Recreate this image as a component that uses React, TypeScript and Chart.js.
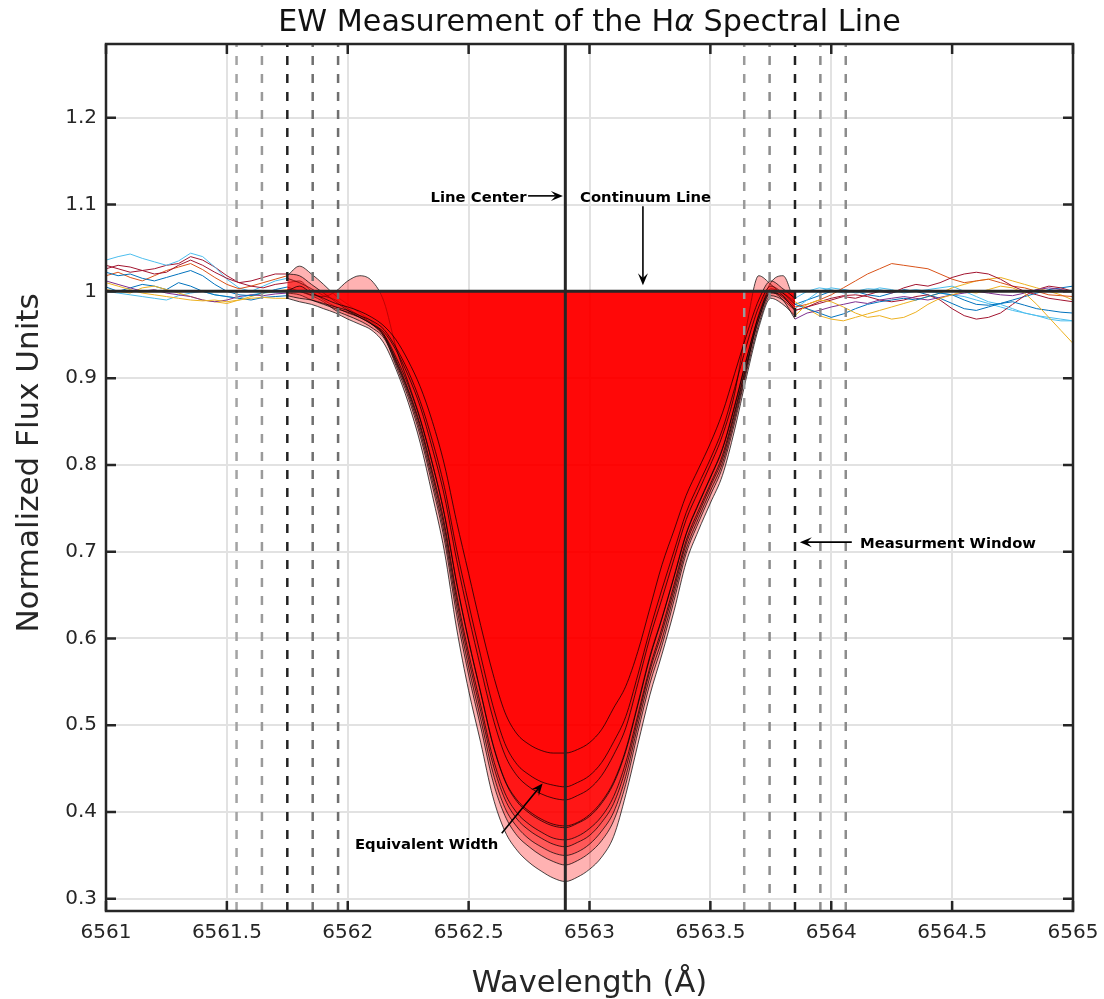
import React, { useEffect, useRef } from 'react';
import { Chart, registerables } from 'chart.js';

Chart.register(...registerables);

// ---- Data -----------------------------------------------------------------
const WAVELENGTH = [
  6561.00, 6561.05, 6561.10, 6561.15, 6561.20, 6561.25, 6561.30, 6561.35, 6561.40, 6561.45,
  6561.50, 6561.55, 6561.60, 6561.65, 6561.70, 6561.75, 6561.80, 6561.85, 6561.90, 6561.95,
  6562.00, 6562.05, 6562.10, 6562.15, 6562.20, 6562.25, 6562.30, 6562.35, 6562.40, 6562.45,
  6562.50, 6562.55, 6562.60, 6562.65, 6562.70, 6562.75, 6562.80, 6562.85, 6562.90, 6562.95,
  6563.00, 6563.05, 6563.10, 6563.15, 6563.20, 6563.25, 6563.30, 6563.35, 6563.40, 6563.45,
  6563.50, 6563.55, 6563.60, 6563.65, 6563.70, 6563.75, 6563.80, 6563.85, 6563.90, 6563.95,
  6564.00, 6564.05, 6564.10, 6564.15, 6564.20, 6564.25, 6564.30, 6564.35, 6564.40, 6564.45,
  6564.50, 6564.55, 6564.60, 6564.65, 6564.70, 6564.75, 6564.80, 6564.85, 6564.90, 6564.95,
  6565.00,
];

const SPEC_A = [
  1.010, 1.006, 1.002, 0.998, 0.996, 0.994, 0.992, 0.990, 0.989, 0.990, 0.988, 0.990, 0.992, 0.993, 0.992,
  0.992, 0.988, 0.985, 0.980, 0.975, 0.968, 0.962, 0.955, 0.940,
  0.910, 0.872, 0.825, 0.765, 0.700, 0.612, 0.540, 0.480, 0.418, 0.378,
  0.356, 0.342, 0.332, 0.324, 0.320, 0.325, 0.334, 0.348, 0.372, 0.420,
  0.478, 0.535, 0.582, 0.632, 0.688, 0.724, 0.756, 0.788, 0.840, 0.902,
  0.958, 0.992, 0.985, 0.972,
  0.985, 0.990, 0.988, 0.982, 0.975, 0.970, 0.972, 0.968, 0.970, 0.976, 0.985, 0.992, 0.996, 1.000, 0.998,
  1.002, 1.006, 1.004, 0.998, 0.985, 0.970, 0.955, 0.940,
];
const SPEC_B = [
  1.030, 1.026, 1.022, 1.024, 1.020, 1.022, 1.030, 1.036, 1.030, 1.022, 1.015, 1.010, 1.006, 1.004, 1.008,
  1.010, 1.012, 1.000, 0.990, 0.982, 0.975, 0.970, 0.962, 0.948,
  0.914, 0.878, 0.833, 0.776, 0.713, 0.628, 0.558, 0.498, 0.436, 0.396,
  0.373, 0.360, 0.350, 0.343, 0.339, 0.344, 0.353, 0.367, 0.390, 0.432,
  0.492, 0.548, 0.592, 0.644, 0.698, 0.733, 0.765, 0.797, 0.848, 0.908,
  0.962, 0.995, 0.990, 0.978,
  0.982, 0.986, 0.990, 0.994, 0.992, 0.996, 1.000, 0.998, 1.004, 1.008, 1.006, 1.010, 1.016, 1.020, 1.022,
  1.020, 1.014, 1.006, 1.000, 0.996, 0.992, 0.990, 0.988,
];
const SPEC_C = [
  1.022, 1.018, 1.020, 1.015, 1.012, 1.016, 1.020, 1.024, 1.018, 1.008, 1.000, 0.996, 0.995, 0.998, 1.002,
  1.005, 1.000, 0.995, 0.988, 0.978, 0.972, 0.966, 0.958, 0.946,
  0.917, 0.882, 0.838, 0.782, 0.720, 0.637, 0.567, 0.507, 0.446, 0.405,
  0.383, 0.369, 0.360, 0.353, 0.350, 0.354, 0.363, 0.378, 0.400, 0.441,
  0.500, 0.556, 0.599, 0.651, 0.703, 0.738, 0.770, 0.802, 0.853, 0.912,
  0.975, 1.010, 1.018, 0.985,
  0.980, 0.975, 0.970, 0.974, 0.980, 0.985, 0.988, 0.990, 0.992, 0.990, 0.994, 0.998, 0.996, 0.990, 0.985,
  0.984, 0.986, 0.988, 0.984, 0.980, 0.978, 0.976, 0.975,
];
const SPEC_D = [
  1.018, 1.022, 1.016, 1.012, 1.018, 1.024, 1.028, 1.032, 1.025, 1.016, 1.008, 1.003, 1.006, 1.010, 1.014,
  1.018, 1.029, 1.020, 1.008, 0.995, 0.985, 0.975, 0.965, 0.950,
  0.919, 0.885, 0.843, 0.788, 0.727, 0.645, 0.576, 0.516, 0.456, 0.415,
  0.392, 0.379, 0.370, 0.363, 0.360, 0.365, 0.373, 0.388, 0.410, 0.450,
  0.507, 0.563, 0.607, 0.657, 0.709, 0.743, 0.775, 0.807, 0.858, 0.915,
  0.967, 0.998, 0.995, 0.982,
  0.985, 0.990, 0.996, 1.004, 1.012, 1.020, 1.026, 1.032, 1.030, 1.028, 1.026, 1.020, 1.014, 1.010, 1.012,
  1.014, 1.010, 1.006, 1.004, 1.000, 0.996, 0.995, 0.994,
];
const SPEC_E = [
  1.012, 1.008, 1.004, 1.000, 1.002, 0.998, 0.996, 0.994, 0.990, 0.988, 0.990, 0.994, 0.996, 0.995, 0.997,
  0.998, 0.996, 0.990, 0.985, 0.980, 0.976, 0.970, 0.962, 0.948,
  0.921, 0.887, 0.846, 0.792, 0.732, 0.651, 0.583, 0.523, 0.463, 0.422,
  0.399, 0.386, 0.377, 0.370, 0.368, 0.372, 0.381, 0.395, 0.418, 0.457,
  0.512, 0.567, 0.612, 0.662, 0.713, 0.747, 0.778, 0.811, 0.861, 0.917,
  0.968, 0.999, 0.990, 0.968,
  0.975, 0.978, 0.982, 0.985, 0.988, 0.986, 0.990, 0.992, 0.994, 0.992, 0.990, 0.993, 0.996, 0.998, 1.000,
  0.998, 0.996, 0.995, 0.998, 1.002, 1.004, 1.002, 1.000,
];
const SPEC_F = [
  1.036, 1.040, 1.043, 1.038, 1.034, 1.030, 1.035, 1.044, 1.040, 1.028, 1.014, 1.004, 1.000, 1.006, 1.012,
  1.015, 1.010, 1.003, 0.995, 0.990, 0.980, 0.972, 0.963, 0.950,
  0.924, 0.892, 0.852, 0.801, 0.742, 0.664, 0.597, 0.537, 0.478, 0.436,
  0.412, 0.399, 0.390, 0.384, 0.382, 0.387, 0.395, 0.410, 0.433, 0.470,
  0.523, 0.578, 0.623, 0.671, 0.720, 0.754, 0.785, 0.818, 0.867, 0.922,
  0.972, 1.000, 0.993, 0.980,
  0.990, 1.000, 1.004, 1.002, 0.998, 1.000, 1.004, 1.002, 0.998, 1.000, 1.002, 1.004, 1.006, 1.000, 0.994,
  0.988, 0.985, 0.980, 0.975, 0.972, 0.968, 0.966, 0.966,
];
const SPEC_G = [
  1.002, 1.000, 0.998, 1.004, 1.006, 1.002, 0.998, 0.994, 0.990, 0.988, 0.986, 0.990, 0.994, 0.998, 1.000,
  1.002, 1.000, 0.996, 0.994, 1.000, 1.012, 1.018, 1.012, 0.988,
  0.935, 0.895, 0.853, 0.802, 0.743, 0.665, 0.598, 0.538, 0.479, 0.437,
  0.414, 0.401, 0.392, 0.386, 0.384, 0.388, 0.397, 0.412, 0.435, 0.472,
  0.525, 0.580, 0.624, 0.672, 0.721, 0.755, 0.786, 0.819, 0.868, 0.923,
  0.972, 1.003, 0.998, 0.988,
  0.980, 0.972, 0.968, 0.966, 0.970, 0.974, 0.978, 0.982, 0.986, 0.990, 0.994, 0.998, 1.004, 1.008, 1.012,
  1.014, 1.016, 1.012, 1.008, 1.004, 1.000, 0.996, 0.990,
];
const SPEC_H = [
  1.026, 1.030, 1.028, 1.024, 1.026, 1.030, 1.032, 1.040, 1.036, 1.028, 1.018, 1.010, 1.012, 1.016, 1.020,
  1.020, 1.018, 1.008, 0.998, 0.988, 0.978, 0.970, 0.962, 0.953,
  0.932, 0.903, 0.867, 0.819, 0.764, 0.691, 0.626, 0.566, 0.509, 0.466,
  0.442, 0.429, 0.421, 0.416, 0.414, 0.419, 0.427, 0.442, 0.466, 0.497,
  0.548, 0.601, 0.646, 0.692, 0.737, 0.769, 0.800, 0.834, 0.882, 0.960,
  1.018, 1.008, 0.995, 0.978,
  0.982, 0.988, 0.992, 0.995, 0.996, 0.994, 0.990, 0.988, 0.990, 0.994, 0.996, 0.990, 0.980, 0.972, 0.968,
  0.970, 0.975, 0.985, 0.995, 1.002, 1.006, 1.004, 1.000,
];
const SPEC_I = [
  1.005, 1.000, 1.004, 1.008, 1.006, 1.002, 1.010, 1.006, 1.000, 0.996, 0.994, 0.992, 0.990, 0.993, 0.994,
  0.995, 0.992, 0.990, 0.986, 0.982, 0.978, 0.972, 0.966, 0.956,
  0.935, 0.908, 0.873, 0.828, 0.774, 0.703, 0.640, 0.580, 0.523, 0.479,
  0.455, 0.443, 0.435, 0.431, 0.429, 0.434, 0.442, 0.457, 0.481, 0.510,
  0.558, 0.610, 0.657, 0.701, 0.745, 0.777, 0.807, 0.841, 0.888, 0.938,
  0.982, 1.006, 0.998, 0.985,
  0.990, 0.995, 1.000, 1.002, 1.000, 0.996, 0.994, 0.998, 1.002, 1.000, 0.996, 0.992, 0.986, 0.980, 0.978,
  0.982, 0.986, 0.990, 0.994, 0.998, 1.002, 1.004, 1.006,
];
const SPEC_J = [
  1.000, 0.998, 0.996, 0.994, 0.992, 0.990, 0.995, 0.998, 1.000, 0.996, 0.994, 0.992, 0.996, 0.998, 0.999,
  1.000, 1.006, 0.998, 0.992, 0.986, 0.982, 0.977, 0.970, 0.960,
  0.944, 0.920, 0.890, 0.850, 0.800, 0.735, 0.675, 0.615, 0.560, 0.515,
  0.490, 0.478, 0.471, 0.468, 0.468, 0.472, 0.480, 0.495, 0.520, 0.545,
  0.585, 0.635, 0.685, 0.725, 0.765, 0.795, 0.825, 0.860, 0.905, 0.950,
  0.990, 1.012, 1.003, 0.992,
  1.000, 1.004, 1.002, 0.998, 1.000, 1.003, 1.002, 0.999, 1.000, 1.002, 1.000, 0.998, 0.996, 0.994, 0.990,
  0.986, 0.982, 0.978, 0.975, 0.972, 0.970, 0.968, 0.966,
];

const SPECTRA = [SPEC_A, SPEC_B, SPEC_C, SPEC_D, SPEC_E, SPEC_F, SPEC_G, SPEC_H, SPEC_I, SPEC_J];
const WING_COLORS = ['#EDB120', '#A2142F', '#0072BD', '#D95319', '#7E2F8E', '#4DBEEE', '#EDB120', '#A2142F', '#0072BD', '#4DBEEE'];

const X_MIN = 6561;
const X_MAX = 6565;
const Y_MIN = 0.286;
const Y_MAX = 1.285;
const X_TICKS = [6561, 6561.5, 6562, 6562.5, 6563, 6563.5, 6564, 6564.5, 6565];
const X_TICK_LABELS = ['6561', '6561.5', '6562', '6562.5', '6563', '6563.5', '6564', '6564.5', '6565'];
const Y_TICKS = [0.3, 0.4, 0.5, 0.6, 0.7, 0.8, 0.9, 1.0, 1.1, 1.2];
const Y_TICK_LABELS = ['0.3', '0.4', '0.5', '0.6', '0.7', '0.8', '0.9', '1', '1.1', '1.2'];

const CONTINUUM = 1.0;
const LINE_CENTER = 6562.9;
const WINDOW_EDGES = [6561.75, 6563.85];
const SIDE_MARKERS = [6561.54, 6561.645, 6561.855, 6561.96, 6563.64, 6563.745, 6563.955, 6564.06];
const SIDE_MARKER_COLORS = ['#a3a3a3', '#9a9a9a', '#6f6f6f', '#6f6f6f', '#9a9a9a', '#8c8c8c', '#8c8c8c', '#8c8c8c'];

const TITLE_PARTS = ['EW Measurement of the H', 'α', ' Spectral Line'];
const X_LABEL = 'Wavelength (Å)';
const Y_LABEL = 'Normalized Flux Units';

const ANNOT_TEXTS = ['Line Center', 'Continuum Line', 'Measurment Window', 'Equivalent Width'];
const ANNOT_TEXT_X = [6562.74, 6562.961, 6564.119, 6562.03];
const ANNOT_TEXT_Y = [1.1035, 1.1035, 0.704, 0.358];
const ANNOT_TEXT_ALIGN = ['right', 'left', 'left', 'left'];
const ANNOT_ARROW_FROM = [[6562.746, 1.110], [6563.221, 1.098], [6564.085, 0.711], [6562.637, 0.3755]];
const ANNOT_ARROW_TO = [[6562.890, 1.110], [6563.221, 1.007], [6563.870, 0.711], [6562.806, 0.433]];

// ---- Helpers --------------------------------------------------------------
const FONT = '"DejaVu Sans", "Liberation Sans", sans-serif';
const AXIS_COLOR = '#262626';

function indexOfWave(w: number) {
  return WAVELENGTH.findIndex((v) => Math.abs(v - w) < 1e-6);
}

function drawArrow(ctx: CanvasRenderingContext2D, x1: number, y1: number, x2: number, y2: number) {
  const ang = Math.atan2(y2 - y1, x2 - x1);
  const c = Math.cos(ang);
  const s = Math.sin(ang);
  const L = 12;
  const W = 5;
  ctx.beginPath();
  ctx.moveTo(x1, y1);
  ctx.lineTo(x2 - c * L * 0.6, y2 - s * L * 0.6);
  ctx.stroke();
  ctx.beginPath();
  ctx.moveTo(x2, y2);
  ctx.lineTo(x2 - L * c + W * s, y2 - L * s - W * c);
  ctx.lineTo(x2 - 0.6 * L * c, y2 - 0.6 * L * s);
  ctx.lineTo(x2 - L * c - W * s, y2 - L * s + W * c);
  ctx.closePath();
  ctx.fill();
}

const decorPlugin = {
  id: 'decor',
  afterDatasetsDraw(chart: any) {
    const { ctx, chartArea: a, scales } = chart;
    const xs = scales.x;
    const ys = scales.y;
    ctx.save();
    // Box
    ctx.strokeStyle = AXIS_COLOR;
    ctx.lineWidth = 2.5;
    ctx.strokeRect(a.left, a.top, a.right - a.left, a.bottom - a.top);
    // Inward ticks on all four sides
    ctx.beginPath();
    X_TICKS.forEach((v) => {
      const px = xs.getPixelForValue(v);
      ctx.moveTo(px, a.bottom);
      ctx.lineTo(px, a.bottom - 10);
      ctx.moveTo(px, a.top);
      ctx.lineTo(px, a.top + 10);
    });
    Y_TICKS.forEach((v) => {
      const py = ys.getPixelForValue(v);
      ctx.moveTo(a.left, py);
      ctx.lineTo(a.left + 10, py);
      ctx.moveTo(a.right, py);
      ctx.lineTo(a.right - 10, py);
    });
    ctx.stroke();

    // Annotations
    ctx.fillStyle = '#000';
    ctx.strokeStyle = '#000';
    ctx.lineWidth = 1.6;
    ctx.font = `bold 14.8px ${FONT}`;
    ctx.textBaseline = 'alphabetic';
    ANNOT_TEXTS.forEach((t, i) => {
      ctx.textAlign = ANNOT_TEXT_ALIGN[i] as CanvasTextAlign;
      ctx.fillText(t, xs.getPixelForValue(ANNOT_TEXT_X[i]), ys.getPixelForValue(ANNOT_TEXT_Y[i]));
      const f = ANNOT_ARROW_FROM[i];
      const to = ANNOT_ARROW_TO[i];
      drawArrow(
        ctx,
        xs.getPixelForValue(f[0]),
        ys.getPixelForValue(f[1]),
        xs.getPixelForValue(to[0]),
        ys.getPixelForValue(to[1])
      );
    });
    ctx.restore();
  },
  afterDraw(chart: any) {
    const { ctx, chartArea: a } = chart;
    const cx = (a.left + a.right) / 2;
    ctx.save();
    ctx.fillStyle = '#111';
    ctx.textBaseline = 'alphabetic';
    // Title with italic alpha
    const normal = `30.2px ${FONT}`;
    const italic = `italic 30.2px ${FONT}`;
    const fonts = [normal, italic, normal];
    const widths = TITLE_PARTS.map((p, i) => {
      ctx.font = fonts[i];
      return ctx.measureText(p).width;
    });
    const total = widths.reduce((s, w) => s + w, 0);
    let x = cx - total / 2;
    ctx.textAlign = 'left';
    TITLE_PARTS.forEach((p, i) => {
      ctx.font = fonts[i];
      ctx.fillText(p, x, 31);
      x += widths[i];
    });
    // Axis labels
    ctx.fillStyle = AXIS_COLOR;
    ctx.font = `30.5px ${FONT}`;
    ctx.textAlign = 'center';
    ctx.fillText(X_LABEL, cx, 992);
    ctx.translate(38, 463);
    ctx.rotate(-Math.PI / 2);
    ctx.font = `31px ${FONT}`;
    ctx.fillText(Y_LABEL, 0, 0);
    ctx.restore();
  },
};

// ---- Component ------------------------------------------------------------
export default function App() {
  const canvasRef = useRef<HTMLCanvasElement | null>(null);

  useEffect(() => {
    const canvas = canvasRef.current;
    if (!canvas) return;
    const iStart = indexOfWave(WINDOW_EDGES[0]);
    const iEnd = indexOfWave(WINDOW_EDGES[1]);
    const pts = (arr: number[], from: number, to: number) =>
      WAVELENGTH.slice(from, to + 1).map((w, k) => ({ x: w, y: arr[from + k] }));

    const datasets: any[] = [];
    // Continuum and line center on top
    datasets.push({
      data: [{ x: X_MIN, y: CONTINUUM }, { x: X_MAX, y: CONTINUUM }],
      borderColor: AXIS_COLOR,
      borderWidth: 3,
      fill: false,
      order: 0,
    });
    datasets.push({
      data: [{ x: LINE_CENTER, y: Y_MIN }, { x: LINE_CENTER, y: Y_MAX }],
      borderColor: AXIS_COLOR,
      borderWidth: 3,
      fill: false,
      order: 0,
    });
    // Window edges (dark dashed) and side markers (gray dashed)
    WINDOW_EDGES.forEach((w) => {
      datasets.push({
        data: [{ x: w, y: Y_MIN }, { x: w, y: Y_MAX }],
        borderColor: '#222',
        borderWidth: 2.5,
        borderDash: [9, 9],
        fill: false,
        order: 5,
      });
    });
    SIDE_MARKERS.forEach((w, i) => {
      datasets.push({
        data: [{ x: w, y: Y_MIN }, { x: w, y: Y_MAX }],
        borderColor: SIDE_MARKER_COLORS[i],
        borderWidth: 2.5,
        borderDash: [9, 9],
        fill: false,
        order: 5,
      });
    });
    // Red filled equivalent-width areas
    SPECTRA.forEach((spec, k) => {
      datasets.push({
        data: pts(spec, iStart, iEnd),
        borderColor: 'rgba(0,0,0,0.9)',
        borderWidth: 0.8,
        backgroundColor: 'rgba(255,0,0,0.3)',
        fill: { value: CONTINUUM },
        cubicInterpolationMode: 'monotone',
        order: 20 - k,
      });
    });
    // Colored continuum wings
    SPECTRA.forEach((spec, k) => {
      datasets.push({
        data: pts(spec, 0, iStart),
        borderColor: WING_COLORS[k],
        borderWidth: 1,
        fill: false,
        order: 30,
      });
      datasets.push({
        data: pts(spec, iEnd, WAVELENGTH.length - 1),
        borderColor: WING_COLORS[k],
        borderWidth: 1,
        fill: false,
        order: 30,
      });
    });

    const tickFont = { family: FONT, size: 20 };
    const chart = new Chart(canvas, {
      type: 'line',
      data: { datasets },
      plugins: [decorPlugin],
      options: {
        responsive: false,
        animation: false,
        devicePixelRatio: 1,
        layout: { padding: { left: 0, top: 44, right: 31, bottom: 0 } },
        elements: { point: { radius: 0, hoverRadius: 0 }, line: { tension: 0 } },
        plugins: {
          legend: { display: false },
          tooltip: { enabled: false },
          title: { display: false },
        },
        events: [],
        scales: {
          x: {
            type: 'linear',
            min: X_MIN,
            max: X_MAX,
            afterBuildTicks: (s: any) => {
              s.ticks = X_TICKS.map((v) => ({ value: v }));
            },
            afterFit: (s: any) => {
              s.height = 88;
              s.paddingLeft = 0;
              s.paddingRight = 0;
            },
            grid: { color: '#e2e2e2', lineWidth: 2, drawTicks: false },
            border: { display: false },
            ticks: {
              padding: 10,
              font: tickFont,
              color: AXIS_COLOR,
              maxRotation: 0,
              autoSkip: false,
              callback: (_v: any, i: number) => X_TICK_LABELS[i],
            },
          },
          y: {
            type: 'linear',
            min: Y_MIN,
            max: Y_MAX,
            afterBuildTicks: (s: any) => {
              s.ticks = Y_TICKS.map((v) => ({ value: v }));
            },
            afterFit: (s: any) => {
              s.width = 106;
              s.paddingTop = 0;
              s.paddingBottom = 0;
            },
            grid: { color: '#e2e2e2', lineWidth: 2, drawTicks: false },
            border: { display: false },
            ticks: {
              padding: 9,
              font: tickFont,
              color: AXIS_COLOR,
              autoSkip: false,
              callback: (_v: any, i: number) => Y_TICK_LABELS[i],
            },
          },
        },
      } as any,
    });
    return () => chart.destroy();
  }, []);

  return (
    <div style={{ position: 'absolute', left: 0, top: 0, width: 1104, height: 999, background: '#fff' }}>
      <canvas ref={canvasRef} width={1104} height={999} style={{ display: 'block' }} />
    </div>
  );
}
